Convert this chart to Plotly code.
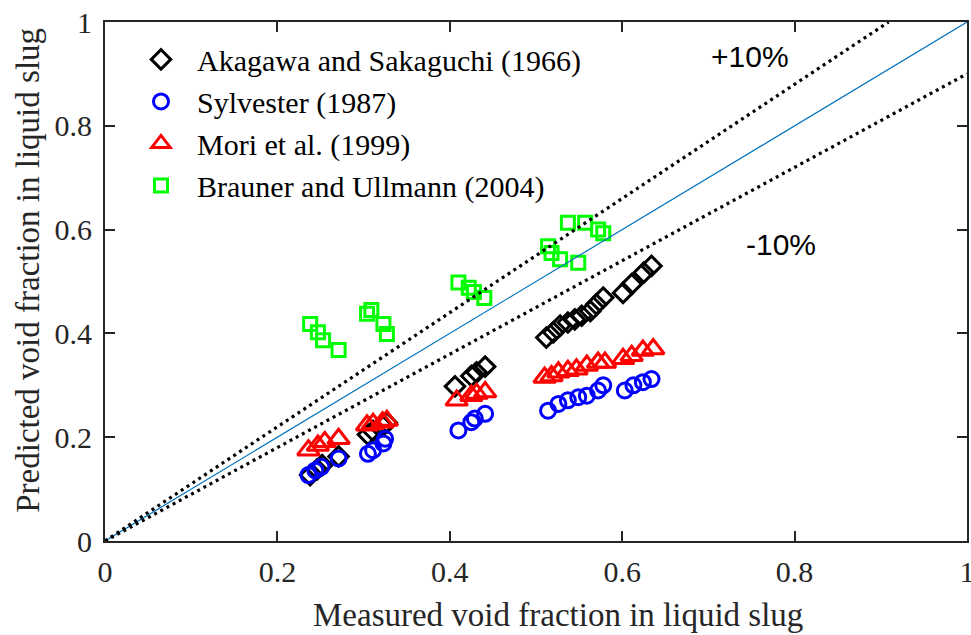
import plotly.graph_objects as go

# Measured vs. predicted void fraction in the liquid slug, per correlation
akagawa_x = [0.238, 0.246, 0.252, 0.271, 0.305, 0.311, 0.322, 0.327,
             0.406, 0.425, 0.431, 0.441, 0.512, 0.520, 0.528, 0.537,
             0.545, 0.553, 0.563, 0.570, 0.578, 0.601, 0.611, 0.625, 0.634]
akagawa_y = [0.127, 0.138, 0.146, 0.163, 0.205, 0.212, 0.222, 0.228,
             0.298, 0.318, 0.325, 0.336, 0.392, 0.402, 0.415, 0.421,
             0.427, 0.434, 0.443, 0.456, 0.469, 0.478, 0.495, 0.517, 0.530]

sylvester_x = [0.236, 0.244, 0.251, 0.271, 0.305, 0.311, 0.323, 0.325,
               0.410, 0.425, 0.429, 0.441, 0.514, 0.526, 0.537, 0.549,
               0.559, 0.572, 0.578, 0.603, 0.613, 0.624, 0.634]
sylvester_y = [0.127, 0.136, 0.143, 0.159, 0.168, 0.175, 0.188, 0.197,
               0.213, 0.229, 0.236, 0.245, 0.251, 0.264, 0.271, 0.277,
               0.280, 0.290, 0.300, 0.290, 0.300, 0.306, 0.312]

mori_x = [0.236, 0.247, 0.255, 0.271, 0.304, 0.311, 0.322, 0.327,
          0.408, 0.425, 0.431, 0.441, 0.510, 0.518, 0.526, 0.537,
          0.547, 0.559, 0.572, 0.580, 0.601, 0.611, 0.624, 0.636]
mori_y = [0.175, 0.184, 0.191, 0.197, 0.223, 0.226, 0.229, 0.232,
          0.271, 0.280, 0.284, 0.287, 0.315, 0.318, 0.325, 0.328,
          0.331, 0.338, 0.344, 0.344, 0.351, 0.357, 0.367, 0.370]

brauner_x = [0.238, 0.247, 0.253, 0.271, 0.304, 0.309, 0.323, 0.327,
             0.410, 0.422, 0.428, 0.440, 0.514, 0.518, 0.528, 0.549,
             0.537, 0.557, 0.572, 0.578]
brauner_y = [0.418, 0.402, 0.387, 0.368, 0.438, 0.445, 0.418, 0.399,
             0.498, 0.488, 0.480, 0.468, 0.568, 0.555, 0.543, 0.536,
             0.613, 0.613, 0.600, 0.593]

series_names = ["Akagawa and Sakaguchi (1966)", "Sylvester (1987)",
                "Mori et al. (1999)", "Brauner and Ullmann (2004)"]

# Reference lines: perfect agreement and +/-10 % bands
ref_x = [0, 1]
parity_y = [0, 1]
band_plus_x = [0, 1 / 1.1]
band_plus_y = [0, 1]
band_minus_x = [0, 1]
band_minus_y = [0, 0.9]

tick_vals = [0, 0.2, 0.4, 0.6, 0.8, 1]
tick_text = ["0", "0.2", "0.4", "0.6", "0.8", "1"]

SERIF = "Liberation Serif, Times New Roman, serif"
SANS = "Liberation Sans, Arial, sans-serif"
AXIS_COLOR = "#262626"

fig = go.Figure()

marker_specs = [
    (akagawa_x, akagawa_y, "diamond-open", "#000000", 15),
    (sylvester_x, sylvester_y, "circle-open", "#0000FF", 15),
    (mori_x, mori_y, "triangle-up-open", "#FF0000", 19),
    (brauner_x, brauner_y, "square-open", "#00FF00", 13),
]
for (xs, ys, sym, col, sz), name in zip(marker_specs, series_names):
    fig.add_trace(go.Scatter(
        x=xs, y=ys, mode="markers", name=name,
        marker=dict(symbol=sym, size=sz, color=col,
                    line=dict(color=col, width=3)),
    ))

fig.add_trace(go.Scatter(x=ref_x, y=parity_y, mode="lines", showlegend=False,
                         line=dict(color="#0072BD", width=1.2)))
fig.add_trace(go.Scatter(x=band_plus_x, y=band_plus_y, mode="lines", showlegend=False,
                         line=dict(color="#000000", width=3.2, dash="3px,4px")))
fig.add_trace(go.Scatter(x=band_minus_x, y=band_minus_y, mode="lines", showlegend=False,
                         line=dict(color="#000000", width=3.2, dash="3px,4px")))

fig.add_annotation(x=0.748, y=0.933, text="+10%", showarrow=False,
                   font=dict(family=SANS, size=30, color="#000000"))
fig.add_annotation(x=0.784, y=0.571, text="-10%", showarrow=False,
                   font=dict(family=SANS, size=30, color="#000000"))

# Axis titles placed as paper annotations
fig.add_annotation(x=0.5255, y=-0.1434, xref="paper", yref="paper",
                   text="Measured void fraction in liquid slug", showarrow=False,
                   xanchor="center", yanchor="middle",
                   font=dict(family=SERIF, size=33, color=AXIS_COLOR))
fig.add_annotation(x=-0.0893, y=0.5207, xref="paper", yref="paper",
                   text="Predicted void fraction in liquid slug", showarrow=False,
                   textangle=-90, xanchor="center", yanchor="middle",
                   font=dict(family=SERIF, size=33, color=AXIS_COLOR))

axis_common = dict(
    range=[0, 1], tickvals=tick_vals, ticktext=tick_text,
    showgrid=False, zeroline=False,
    showline=True, linecolor=AXIS_COLOR, linewidth=2, mirror="allticks",
    ticks="inside", ticklen=10, tickwidth=1.6, tickcolor=AXIS_COLOR,
    tickfont=dict(family=SERIF, size=30, color=AXIS_COLOR),
    ticklabeloverflow="allow", automargin=False,
)

fig.update_layout(
    width=971, height=635,
    margin=dict(l=105, r=4, t=22, b=94),
    paper_bgcolor="white", plot_bgcolor="white",
    xaxis=dict(axis_common, ticklabelstandoff=3),
    yaxis=dict(axis_common, ticklabelstandoff=5),
    legend=dict(x=0.0232, y=0.978, xanchor="left", yanchor="top",
                itemwidth=62,
                bgcolor="rgba(0,0,0,0)",
                font=dict(family=SERIF, size=30, color="#000000")),
    showlegend=True,
)

fig.write_html("out.html")
